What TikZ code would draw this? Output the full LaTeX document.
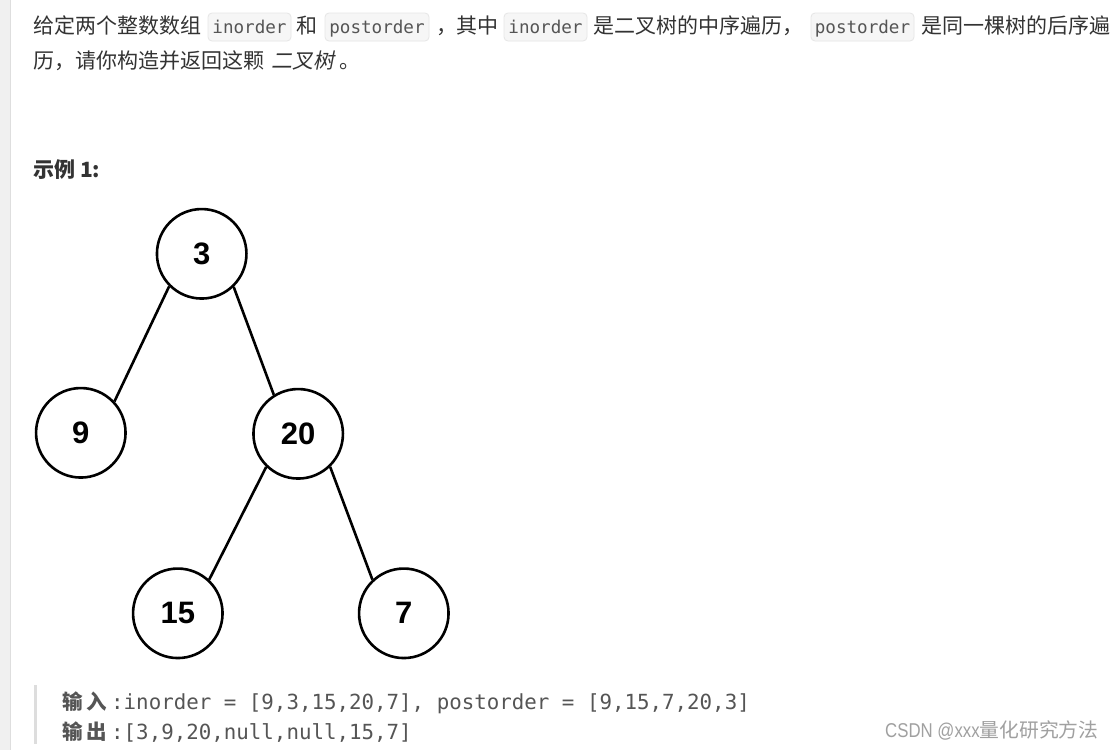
\documentclass[tikz,border=0pt]{standalone}
\usepackage{fontspec}
\usepackage{graphicx}
\setmainfont{Liberation Sans}
\newfontfamily\cjk{Noto Sans CJK SC}
\newfontfamily\cjkit[FakeSlant=0.2]{Noto Sans CJK SC}
\newfontfamily\mono{DejaVu Sans Mono}
\newfontfamily\arialb{Liberation Sans}
\definecolor{txt}{RGB}{51,51,51}
\definecolor{codetxt}{RGB}{85,85,85}
\definecolor{codebg}{RGB}{246,246,246}
\definecolor{codeborder}{RGB}{230,230,230}
\definecolor{sidebar}{RGB}{240,240,240}
\definecolor{sideline}{RGB}{222,222,222}
\definecolor{quotebar}{RGB}{221,221,221}
\definecolor{wm}{RGB}{160,160,160}
\tikzset{
  tnode/.style={circle, draw=black, line width=2.6pt, inner sep=0pt, minimum size=89.5pt,
    font=\arialb\bfseries\fontsize{31pt}{31pt}\selectfont},
  tedge/.style={draw=black, line width=2.6pt},
  para/.style={anchor=base west, inner sep=0pt, text=txt, font=\cjk\fontsize{21pt}{25pt}\selectfont},
  codebox/.style={draw=codeborder, fill=codebg, rounded corners=4pt, line width=0.8pt},
  codetext/.style={anchor=base, inner sep=0pt, text=codetxt, font=\mono\fontsize{17.6pt}{20pt}\selectfont},
  blk/.style={anchor=base west, inner sep=0pt, text=codetxt, font=\mono\fontsize{20.8pt}{24pt}\selectfont},
}
\newcommand{\cjkcell}[1]{\makebox[24.5pt][l]{\cjk\bfseries\fontsize{20.5pt}{24pt}\selectfont #1}}
\begin{document}
\begin{tikzpicture}[x=1pt,y=-1pt]
\useasboundingbox (0,0) rectangle (1118,750);
\fill[white] (0,0) rectangle (1118,750);
% left side strip
\fill[sidebar] (0,0) rectangle (10,750);
\draw[sideline, line width=0.8pt] (10,0) -- (10,750);

% paragraph line 1
\node[para] (t1) at (33,33) {给定两个整数数组};
\draw[codebox] (208,13) rectangle (291,41);
\node[codetext] (c1) at (249.5,33) {inorder};
\node[para] (t2) at (296,33) {和};
\draw[codebox] (325,13) rectangle (429,41);
\node[codetext] (c2) at (377,33) {postorder};
\node[para] (t3) at (436,33) {，};
\node[para] (t4) at (456,33) {其中};
\draw[codebox] (504,13) rectangle (587,41);
\node[codetext] (c3) at (545.5,33) {inorder};
\node[para] (t5) at (593,33) {是二叉树的中序遍历，};
\draw[codebox] (811,13) rectangle (914,41);
\node[codetext] (c4) at (862.5,33) {postorder};
\node[para] (t6) at (921,33) {是同一棵树的后序遍};

% paragraph line 2
\node[para] (t7) at (33,68) {历，请你构造并返回这颗};
\node[para, font=\cjkit\fontsize{21pt}{25pt}\selectfont] (t8) at (271,68) {二叉树};
\node[para] (t9) at (339,68) {。};

% example title
\node[para, font=\cjk\bfseries\fontsize{21pt}{25pt}\selectfont] (title) at (33,177) {示例 1:};

% tree
\node[tnode] (n3) at (201.7,253.8) {3};
\node[tnode] (n9) at (80.8,432.8) {9};
\node[tnode] (n20) at (298.2,433.8) {20};
\node[tnode] (n15) at (177.8,613.3) {15};
\node[tnode] (n7) at (403.8,613.3) {7};
\draw[tedge] (n3.225) -- (n9.43);
\draw[tedge] (n3.314) -- (n20.122);
\draw[tedge] (n20.226) -- (n15.47);
\draw[tedge] (n20.314) -- (n7.133);

% block quote
\draw[quotebar, line width=3pt] (35,685) -- (35,744);
\node[blk] (in) at (62,709) {\cjkcell{输}\cjkcell{入}:inorder = [9,3,15,20,7], postorder = [9,15,7,20,3]};
\node[blk] (out) at (62,739) {\cjkcell{输}\cjkcell{出}:[3,9,20,null,null,15,7]};

% watermark
\node[anchor=base west, inner sep=0pt, text=wm] (wm) at (885,737)
  {\scalebox{0.84}[1]{\fontsize{20pt}{24pt}\selectfont CSDN @xxx}{\cjk\fontsize{19.8pt}{24pt}\selectfont 量化研究方法}};
\end{tikzpicture}
\end{document}
